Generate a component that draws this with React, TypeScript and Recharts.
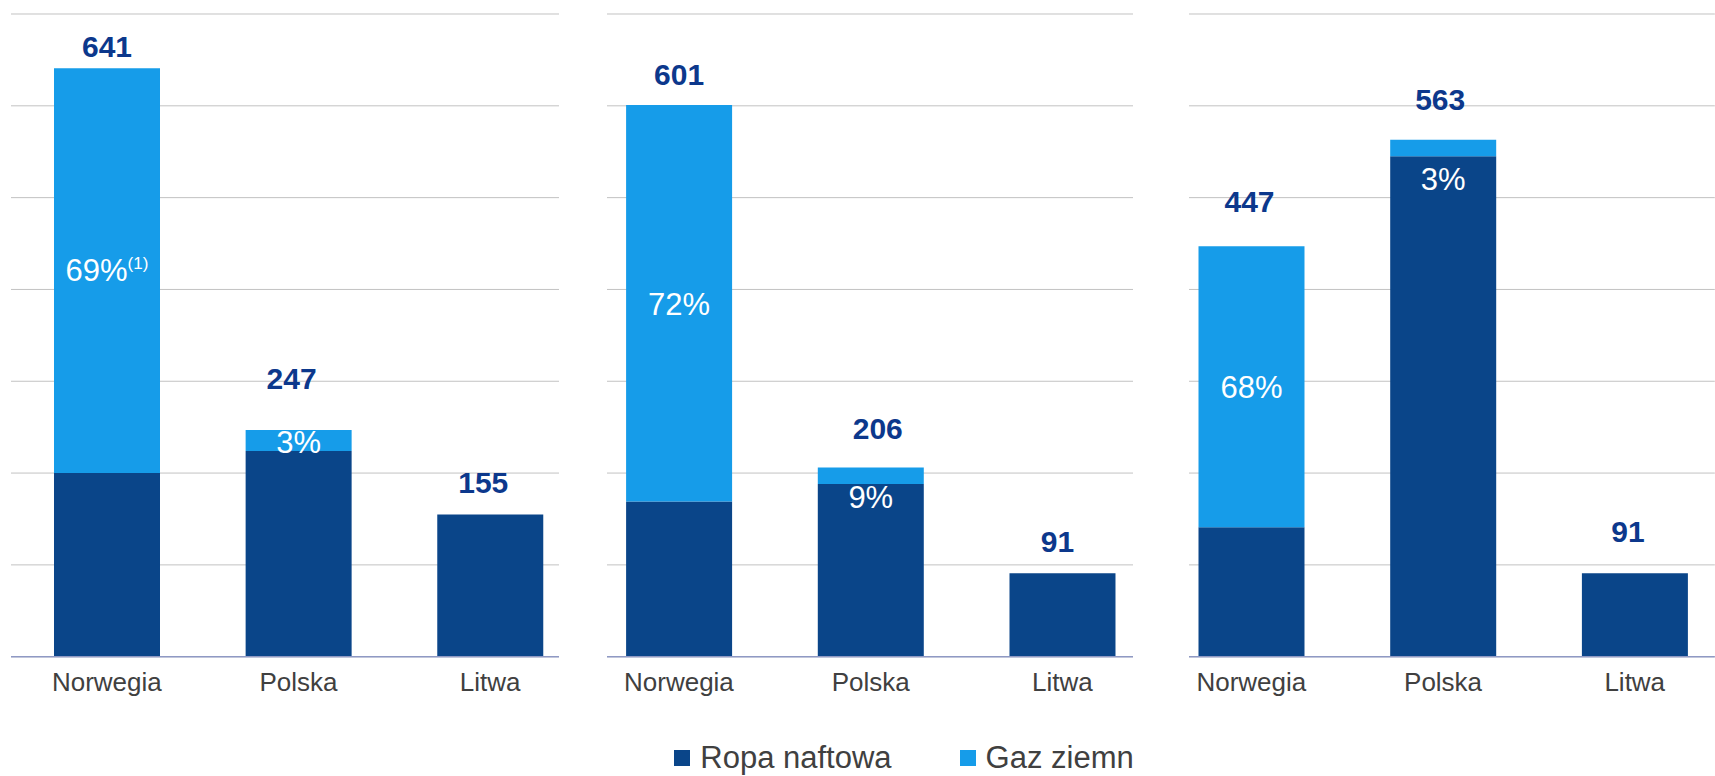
import { BarChart, Bar, XAxis, YAxis, CartesianGrid, LabelList, Legend } from 'recharts';

// kraje na osi X
const countries = ['Norwegia', 'Polska', 'Litwa'];

// panel 1
const oil1 = [200, 224, 155];
const gas1 = [441, 23, 0];
const total1 = [641, 247, 155];
const pct1 = ['69%', '3%', ''];
const note1 = ['(1)', '', ''];

// panel 2
const oil2 = [169, 188, 91];
const gas2 = [432, 18, 0];
const total2 = [601, 206, 91];
const pct2 = ['72%', '9%', ''];
const note2 = ['', '', ''];

// panel 3
const oil3 = [141, 545, 91];
const gas3 = [306, 18, 0];
const total3 = [447, 563, 91];
const pct3 = ['68%', '3%', ''];
const note3 = ['', '', ''];

const yTicks = [0, 100, 200, 300, 400, 500, 600, 700];
const seriesNames = ['Ropa naftowa', 'Gaz ziemny'];

const DARK = '#0a4589';
const LIGHT = '#169ce9';
const NAVY = '#0c388c';
const FONT = '"Liberation Sans", Arial, sans-serif';

const CountryTick = (props: any) => {
  const { x, y, payload } = props;
  return (
    <text x={x} y={y} dy={34} textAnchor="middle" fill="#404040" fontSize={26} fontFamily={FONT}>
      {payload.value}
    </text>
  );
};

const LegendContent = () => {
  const colors = [DARK, LIGHT];
  return (
    <div style={{ display: 'flex', alignItems: 'center', whiteSpace: 'nowrap', fontFamily: FONT, fontSize: 31, color: '#404040' }}>
      {seriesNames.map((name, i) => (
        <div key={name} style={{ display: 'flex', alignItems: 'center', marginRight: 68 }}>
          <span style={{ display: 'inline-block', width: 16, height: 16, background: colors[i], marginRight: 10 }} />
          {name}
        </div>
      ))}
    </div>
  );
};

interface PanelProps {
  oil: number[];
  gas: number[];
  total: number[];
  pct: string[];
  note: string[];
  left: number;
  width: number;
  padL: number;
  padR: number;
  lift: number[];
  shiftX: number[];
  pctShift: number[];
  legend?: boolean;
}

function Panel({ oil, gas, total, pct, note, left, width, padL, padR, lift, shiftX, pctShift, legend }: PanelProps) {
  const data = countries.map((c, i) => ({ country: c, oil: oil[i], gas: gas[i] }));

  // suma nad slupkiem: liczona od gory segmentu ropy, bo segment gazu bywa zerowy
  const renderTotal = (p: any) => {
    const { x, y, width: w, height: h, index } = p;
    const perUnit = h / oil[index];
    const top = y - gas[index] * perUnit;
    return (
      <text x={x + w / 2 + shiftX[index]} y={top - lift[index]} textAnchor="middle" fill={NAVY} fontSize={30} fontWeight="bold" fontFamily={FONT}>
        {total[index]}
      </text>
    );
  };

  const renderPct = (p: any) => {
    const { x, y, width: w, height: h, index } = p;
    if (!pct[index]) return null;
    return (
      <text x={x + w / 2} y={y + h / 2 + 11 + pctShift[index]} textAnchor="middle" fill="#fff" fontSize={31} fontFamily={FONT}>
        <tspan>{pct[index]}</tspan>
        {note[index] ? <tspan dy={-12} fontSize={17}>{note[index]}</tspan> : null}
      </text>
    );
  };

  return (
    <div style={{ position: 'absolute', left, top: 0, width, height: 776, overflow: 'hidden' }}>
      <BarChart width={width} height={776} data={data} margin={{ top: 14, right: 0, left: 0, bottom: 79.3 }} barSize={106}>
        <CartesianGrid vertical={false} stroke="#c2c2c2" />
        <XAxis
          dataKey="country"
          interval={0}
          height={40}
          padding={{ left: padL, right: padR }}
          axisLine={{ stroke: '#8f99c4', strokeWidth: 1.5 }}
          tickLine={false}
          tickSize={0}
          tickMargin={0}
          tick={<CountryTick />}
        />
        <YAxis hide domain={[0, 700]} ticks={yTicks} />
        <Bar dataKey="oil" stackId="a" fill={DARK} name={seriesNames[0]} isAnimationActive={false}>
          <LabelList dataKey="oil" content={renderTotal} />
        </Bar>
        <Bar dataKey="gas" stackId="a" fill={LIGHT} name={seriesNames[1]} isAnimationActive={false}>
          <LabelList dataKey="gas" content={renderPct} />
        </Bar>
        {legend && (
          <Legend
            layout="horizontal"
            verticalAlign="middle"
            align="center"
            wrapperStyle={{ top: 740, left: 67, width: 800 }}
            content={<LegendContent />}
          />
        )}
      </BarChart>
    </div>
  );
}

export default function App() {
  return (
    <div style={{ position: 'fixed', left: 0, top: 0, width: 1715, height: 776, overflow: 'hidden', background: '#fff' }}>
      <Panel oil={oil1} gas={gas1} total={total1} pct={pct1} note={note1}
        left={11.2} width={548.3} padL={0} padR={-26.6}
        lift={[11, 41, 21]} shiftX={[0, -7, -7]} pctShift={[-1, 2, 0]} />
      <Panel oil={oil2} gas={gas2} total={total2} pct={pct2} note={note2}
        left={607.3} width={526.2} padL={-23.9} padR={-25}
        lift={[20, 29, 21]} shiftX={[0, 7, -5]} pctShift={[1, 21, 0]} legend />
      <Panel oil={oil3} gas={gas3} total={total3} pct={pct3} note={note3}
        left={1189.2} width={525.8} padL={-33.5} padR={-15.8}
        lift={[34, 30, 31]} shiftX={[-2, -3, -7]} pctShift={[0, 31, 0]} />
    </div>
  );
}
